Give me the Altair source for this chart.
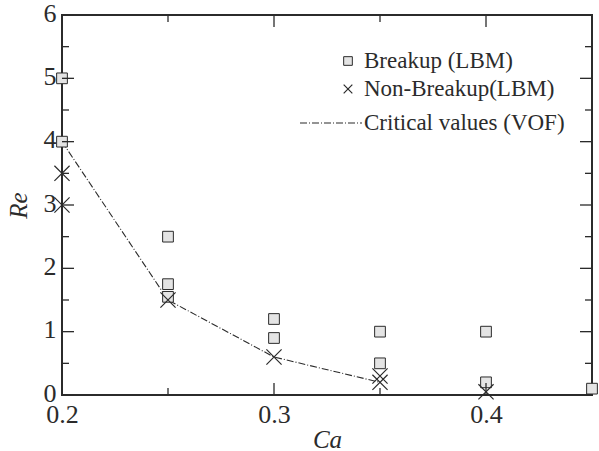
import altair as alt
import pandas as pd

# Breakup cases (LBM)
breakup_ca = [0.20, 0.20, 0.25, 0.25, 0.25, 0.30, 0.30, 0.35, 0.35, 0.40, 0.40, 0.45]
breakup_re = [5.0, 4.0, 2.5, 1.75, 1.55, 1.2, 0.9, 1.0, 0.5, 1.0, 0.2, 0.1]

# Non-breakup cases (LBM)
nonbreak_ca = [0.20, 0.20, 0.25, 0.30, 0.35, 0.35, 0.40]
nonbreak_re = [3.5, 3.0, 1.5, 0.6, 0.3, 0.2, 0.05]

# Critical values from VOF
vof_ca = [0.20, 0.25, 0.30, 0.35]
vof_re = [4.0, 1.5, 0.6, 0.2]

legend_labels = ["Breakup (LBM)", "Non-Breakup(LBM)", "Critical values (VOF)"]

x_major = [0.2, 0.3, 0.4]
x_minor = [0.25, 0.35]
y_major = [0, 1, 2, 3, 4, 5, 6]
y_minor = [0.5, 1.5, 2.5, 3.5, 4.5, 5.5]

W, H = 530, 380
FONT = "'Liberation Serif', 'Times New Roman', serif"
INK = "#2b2b2b"
CROSS = "M-1,-1L1,1M-1,1L1,-1"

xs = alt.Scale(domain=[0.2, 0.45], nice=False, zero=False)
ys = alt.Scale(domain=[0, 6], nice=False, zero=False)

breakup = pd.DataFrame({"Ca": breakup_ca, "Re": breakup_re})
nonbreak = pd.DataFrame({"Ca": nonbreak_ca, "Re": nonbreak_re})
vof = pd.DataFrame({"Ca": vof_ca, "Re": vof_re})

x_axis = alt.Axis(values=x_major, format=".1f", ticks=False, domain=False, grid=False,
                  labelFlush=False, labelOverlap=False,
                  labelFont=FONT, labelFontSize=26, labelColor=INK, labelPadding=6,
                  title="Ca", titleFont=FONT, titleFontSize=25, titleFontStyle="italic",
                  titleFontWeight="normal", titleColor=INK, titlePadding=0)
y_axis = alt.Axis(values=y_major, format="d", ticks=False, domain=False, grid=False,
                  labelFlush=False, labelOverlap=False, labelOffset=-2,
                  labelFont=FONT, labelFontSize=26, labelColor=INK, labelPadding=6,
                  title="Re", titleFont=FONT, titleFontSize=25, titleFontStyle="italic",
                  titleFontWeight="normal", titleColor=INK, titlePadding=12)

line = alt.Chart(vof).mark_line(
    color=INK, strokeWidth=1.1, strokeDash=[7, 2, 1, 2], interpolate="linear"
).encode(
    x=alt.X("Ca:Q", scale=xs, axis=x_axis),
    y=alt.Y("Re:Q", scale=ys, axis=y_axis),
)

squares = alt.Chart(breakup).mark_point(
    shape="square", size=115, filled=True, fill="#e4e4e4", stroke=INK,
    strokeWidth=1, opacity=1
).encode(x=alt.X("Ca:Q", scale=xs), y=alt.Y("Re:Q", scale=ys))

crosses = alt.Chart(nonbreak).mark_point(
    shape=CROSS, size=230, filled=False, color=INK, strokeWidth=1.2, opacity=1
).encode(x=alt.X("Ca:Q", scale=xs), y=alt.Y("Re:Q", scale=ys))


def xticks(vals, length):
    d = pd.DataFrame({"Ca": vals})
    bottom = alt.Chart(d).mark_rule(color=INK, strokeWidth=1.3).encode(
        x=alt.X("Ca:Q", scale=xs), y=alt.value(H), y2=alt.value(H - length))
    top = alt.Chart(d).mark_rule(color=INK, strokeWidth=1.3).encode(
        x=alt.X("Ca:Q", scale=xs), y=alt.value(0), y2=alt.value(length))
    return [bottom, top]


def yticks(vals, length):
    d = pd.DataFrame({"Re": vals})
    left = alt.Chart(d).mark_rule(color=INK, strokeWidth=1.3).encode(
        y=alt.Y("Re:Q", scale=ys), x=alt.value(0), x2=alt.value(length))
    right = alt.Chart(d).mark_rule(color=INK, strokeWidth=1.3).encode(
        y=alt.Y("Re:Q", scale=ys), x=alt.value(W), x2=alt.value(W - length))
    return [left, right]


ticks = xticks(x_major, 12) + xticks(x_minor, 7) + yticks(y_major, 12) + yticks(y_minor, 7)

# Legend drawn in the upper right corner of the plot
leg_sq = alt.Chart(pd.DataFrame({"k": [legend_labels[0]]})).mark_point(
    shape="square", size=75, filled=True, fill="#e4e4e4", stroke=INK, strokeWidth=1, opacity=1
).encode(x=alt.value(286), y=alt.value(46))
leg_x = alt.Chart(pd.DataFrame({"k": [legend_labels[1]]})).mark_point(
    shape=CROSS, size=75, filled=False, color=INK, strokeWidth=1.2, opacity=1
).encode(x=alt.value(286), y=alt.value(74))
leg_line = alt.Chart(pd.DataFrame({"k": [legend_labels[2]]})).mark_rule(
    color=INK, strokeWidth=1.1, strokeDash=[7, 2, 1, 2]
).encode(x=alt.value(238), x2=alt.value(300), y=alt.value(108))
leg_text = alt.Chart(pd.DataFrame({"label": legend_labels, "row": [46, 74, 108]})).mark_text(
    align="left", baseline="middle", font=FONT, fontSize=23, color=INK
).encode(x=alt.value(302), y=alt.Y("row:Q", scale=None), text="label:N")

chart = alt.layer(
    line, squares, crosses, *ticks, leg_sq, leg_x, leg_line, leg_text
).properties(
    width=W, height=H,
    autosize=alt.AutoSizeParams(type="none"),
    padding={"left": 62, "top": 15, "right": 7, "bottom": 56},
    background="white",
).configure_view(stroke=INK, strokeWidth=2)

chart.save("out.html", embed_options={"renderer": "svg", "actions": False})
